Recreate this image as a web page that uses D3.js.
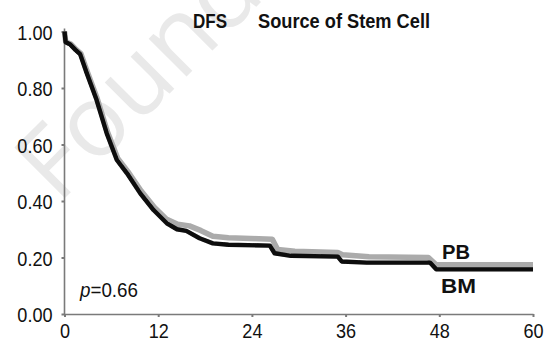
<!DOCTYPE html>
<html>
<head>
<meta charset="utf-8">
<script src="https://cdn.jsdelivr.net/npm/d3@7"></script>
<style>
  html, body { margin: 0; padding: 0; background: #fff; }
  svg { display: block; }
</style>
</head>
<body>
<svg id="chart" width="552" height="343"></svg>
<script>
// ---- data ----
const xTicks = [0, 12, 24, 36, 48, 60];
const yTicks = [0, 0.2, 0.4, 0.6, 0.8, 1.0];

const bmTime = [0, 0.15, 0.7, 1.4, 2.0, 2.85, 4.1, 5.4, 6.7, 8.0, 9.7, 11.4, 13.1, 14.4, 15.6, 17.3, 19.0, 21.0, 26.3, 26.9, 29.0, 35.0, 35.5, 38.7, 46.8, 47.6, 60];
const bmSurv = [1.0, 0.962, 0.955, 0.935, 0.92, 0.852, 0.758, 0.64, 0.545, 0.498, 0.427, 0.368, 0.321, 0.3, 0.294, 0.268, 0.25, 0.245, 0.242, 0.215, 0.206, 0.203, 0.186, 0.182, 0.182, 0.158, 0.158];

const pbTime = [0, 0.15, 0.8, 1.5, 2.1, 2.95, 4.2, 5.5, 6.8, 8.1, 9.8, 11.5, 13.1, 14.5, 16.0, 17.5, 19.0, 21.0, 26.6, 27.3, 29.5, 35.0, 35.6, 39.0, 46.6, 47.6, 60];
const pbSurv = [1.0, 0.964, 0.956, 0.936, 0.922, 0.855, 0.762, 0.645, 0.552, 0.505, 0.436, 0.378, 0.335, 0.318, 0.312, 0.295, 0.275, 0.27, 0.265, 0.228, 0.222, 0.218, 0.21, 0.203, 0.2, 0.174, 0.174];

const seriesLabels = ["PB", "BM"];
const subtitleLeft = "DFS";
const subtitleRight = "Source of Stem Cell";
const pValue = "0.66";

// ---- drawing ----
const FONT = "'Liberation Sans', Arial, Helvetica, sans-serif";
const svg = d3.select("#chart");
const x = d3.scaleLinear().domain([0, 60]).range([64.5, 533]);
const y = d3.scaleLinear().domain([0, 1]).range([314, 31.5]);

function condense(sel, k) {
  sel.each(function () {
    const w = this.getComputedTextLength();
    d3.select(this).attr("textLength", w * k).attr("lengthAdjust", "spacingAndGlyphs");
  });
}

// watermark
const wm = svg.append("g").attr("transform", "translate(58,205) rotate(-45)")
  .attr("font-family", "'Open Sans', 'DejaVu Sans', sans-serif")
  .attr("font-size", 100).attr("fill", "#e9e9e9");
wm.append("text").attr("text-anchor", "start").text("Foundation");

// axes
const axisColor = "#7a7a7a";
const gx = svg.append("g").attr("transform", `translate(0,${y(0)})`)
  .call(d3.axisBottom(x).tickValues(xTicks).tickSize(3).tickSizeOuter(0).tickPadding(6).tickFormat(d3.format("d")));
const gy = svg.append("g").attr("transform", `translate(${x(0)},0)`)
  .call(d3.axisLeft(y).tickValues(yTicks).tickSize(3).tickSizeOuter(0).tickPadding(9).tickFormat(d3.format(".2f")));
[gx, gy].forEach(g => {
  g.select(".domain").attr("stroke", axisColor).attr("stroke-width", 1.6);
  g.selectAll(".tick line").attr("stroke", axisColor).attr("stroke-width", 2);
  g.selectAll(".tick text").attr("font-family", FONT).attr("font-size", 21).attr("fill", "#111");
});
gy.select(".domain").attr("d", `M0,${y(1) - 3}V${y(0)}`);
gy.selectAll(".tick text").attr("dy", "0.36em");
condense(gx.selectAll(".tick text"), 0.86);
condense(gy.selectAll(".tick text"), 0.86);

// curves
const line = d3.line().x(d => x(d[0])).y(d => y(d[1])).curve(d3.curveLinear);
const pbData = pbTime.map((t, i) => [t, pbSurv[i]]);
const bmData = bmTime.map((t, i) => [t, bmSurv[i]]);

const defs = svg.append("defs");
defs.append("filter").attr("id", "soft").append("feGaussianBlur").attr("stdDeviation", 0.5);

svg.append("path").datum(pbData).attr("d", line)
  .attr("fill", "none").attr("stroke", "#ababab").attr("stroke-width", 5.5)
  .attr("stroke-linejoin", "round").attr("filter", "url(#soft)");
svg.append("path").datum(bmData).attr("d", line)
  .attr("fill", "none").attr("stroke", "#080808").attr("stroke-width", 4.4)
  .attr("stroke-linejoin", "round").attr("filter", "url(#soft)");

// subtitle
function boldLabel(xp, yp, size, width, txt) {
  return svg.append("text").attr("x", xp).attr("y", yp)
    .attr("font-family", FONT).attr("font-size", size).attr("font-weight", "bold").attr("fill", "#111")
    .attr("textLength", width).attr("lengthAdjust", "spacingAndGlyphs").text(txt);
}
boldLabel(193, 28, 20, 34, subtitleLeft);
boldLabel(258, 28, 20, 172, subtitleRight);

// series labels
boldLabel(442, 259, 21, 28, seriesLabels[0]);
boldLabel(441, 293, 21, 35, seriesLabels[1]);

// p-value
const pt = svg.append("text").attr("x", 80).attr("y", 297)
  .attr("font-family", FONT).attr("font-size", 21).attr("fill", "#111")
  .attr("textLength", 58).attr("lengthAdjust", "spacingAndGlyphs");
pt.append("tspan").attr("font-style", "italic").text("p");
pt.append("tspan").text("=" + pValue);
</script>
</body>
</html>
